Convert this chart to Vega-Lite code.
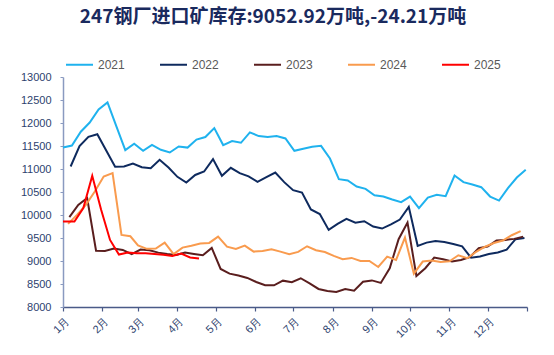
{
  "$schema": "https://vega.github.io/schema/vega-lite/v6.json",
  "width": 464,
  "height": 230,
  "autosize": {"type": "none"},
  "padding": {"left": 63, "top": 77, "right": 27, "bottom": 48},
  "background": "white",
  "title": {
    "text": "247钢厂进口矿库存:9052.92万吨,-24.21万吨",
    "anchor": "middle",
    "frame": "group",
    "dx": -22,
    "offset": 23,
    "font": "Noto Sans CJK SC",
    "fontSize": 19,
    "fontWeight": "bold",
    "color": "#1A2A5E"
  },
  "config": {
    "view": {"stroke": null},
    "axis": {"grid": false}
  },
  "data": {
    "values": [
      {"s":"2021","d":"2021-01-01","v":11468},{"s":"2021","d":"2021-01-08","v":11510},{"s":"2021","d":"2021-01-15","v":11810},{"s":"2021","d":"2021-01-22","v":12010},{"s":"2021","d":"2021-01-29","v":12295},{"s":"2021","d":"2021-02-05","v":12447},{"s":"2021","d":"2021-02-12","v":11925},{"s":"2021","d":"2021-02-19","v":11410},{"s":"2021","d":"2021-02-26","v":11548},{"s":"2021","d":"2021-03-05","v":11396},{"s":"2021","d":"2021-03-12","v":11526},{"s":"2021","d":"2021-03-19","v":11418},{"s":"2021","d":"2021-03-26","v":11359},{"s":"2021","d":"2021-04-02","v":11490},{"s":"2021","d":"2021-04-09","v":11465},{"s":"2021","d":"2021-04-16","v":11640},{"s":"2021","d":"2021-04-23","v":11694},{"s":"2021","d":"2021-04-30","v":11890},{"s":"2021","d":"2021-05-07","v":11520},{"s":"2021","d":"2021-05-14","v":11607},{"s":"2021","d":"2021-05-21","v":11570},{"s":"2021","d":"2021-05-28","v":11795},{"s":"2021","d":"2021-06-04","v":11716},{"s":"2021","d":"2021-06-11","v":11694},{"s":"2021","d":"2021-06-18","v":11716},{"s":"2021","d":"2021-06-25","v":11664},{"s":"2021","d":"2021-07-02","v":11396},{"s":"2021","d":"2021-07-09","v":11439},{"s":"2021","d":"2021-07-16","v":11483},{"s":"2021","d":"2021-07-23","v":11504},{"s":"2021","d":"2021-07-30","v":11228},{"s":"2021","d":"2021-08-06","v":10780},{"s":"2021","d":"2021-08-13","v":10750},{"s":"2021","d":"2021-08-20","v":10619},{"s":"2021","d":"2021-08-27","v":10569},{"s":"2021","d":"2021-09-03","v":10430},{"s":"2021","d":"2021-09-10","v":10401},{"s":"2021","d":"2021-09-17","v":10336},{"s":"2021","d":"2021-09-24","v":10279},{"s":"2021","d":"2021-10-01","v":10401},{"s":"2021","d":"2021-10-08","v":10148},{"s":"2021","d":"2021-10-15","v":10380},{"s":"2021","d":"2021-10-22","v":10438},{"s":"2021","d":"2021-10-29","v":10409},{"s":"2021","d":"2021-11-05","v":10858},{"s":"2021","d":"2021-11-12","v":10714},{"s":"2021","d":"2021-11-19","v":10662},{"s":"2021","d":"2021-11-26","v":10605},{"s":"2021","d":"2021-12-03","v":10401},{"s":"2021","d":"2021-12-10","v":10314},{"s":"2021","d":"2021-12-17","v":10584},{"s":"2021","d":"2021-12-24","v":10815},{"s":"2021","d":"2021-12-31","v":10982},
      {"s":"2022","d":"2021-01-07","v":11054},{"s":"2022","d":"2021-01-14","v":11497},{"s":"2022","d":"2021-01-21","v":11700},{"s":"2022","d":"2021-01-28","v":11755},{"s":"2022","d":"2021-02-04","v":11400},{"s":"2022","d":"2021-02-11","v":11047},{"s":"2022","d":"2021-02-18","v":11054},{"s":"2022","d":"2021-02-25","v":11120},{"s":"2022","d":"2021-03-04","v":11040},{"s":"2022","d":"2021-03-11","v":11015},{"s":"2022","d":"2021-03-18","v":11200},{"s":"2022","d":"2021-03-25","v":11033},{"s":"2022","d":"2021-04-01","v":10830},{"s":"2022","d":"2021-04-08","v":10707},{"s":"2022","d":"2021-04-15","v":10870},{"s":"2022","d":"2021-04-22","v":10946},{"s":"2022","d":"2021-04-29","v":11215},{"s":"2022","d":"2021-05-06","v":10852},{"s":"2022","d":"2021-05-13","v":11026},{"s":"2022","d":"2021-05-20","v":10910},{"s":"2022","d":"2021-05-27","v":10840},{"s":"2022","d":"2021-06-03","v":10721},{"s":"2022","d":"2021-06-10","v":10823},{"s":"2022","d":"2021-06-17","v":10924},{"s":"2022","d":"2021-06-24","v":10714},{"s":"2022","d":"2021-07-01","v":10540},{"s":"2022","d":"2021-07-08","v":10489},{"s":"2022","d":"2021-07-15","v":10120},{"s":"2022","d":"2021-07-22","v":10020},{"s":"2022","d":"2021-07-29","v":9676},{"s":"2022","d":"2021-08-05","v":9806},{"s":"2022","d":"2021-08-12","v":9915},{"s":"2022","d":"2021-08-19","v":9833},{"s":"2022","d":"2021-08-26","v":9865},{"s":"2022","d":"2021-09-02","v":9748},{"s":"2022","d":"2021-09-09","v":9705},{"s":"2022","d":"2021-09-16","v":9795},{"s":"2022","d":"2021-09-23","v":9900},{"s":"2022","d":"2021-09-30","v":10177},{"s":"2022","d":"2021-10-07","v":9330},{"s":"2022","d":"2021-10-14","v":9400},{"s":"2022","d":"2021-10-21","v":9433},{"s":"2022","d":"2021-10-28","v":9411},{"s":"2022","d":"2021-11-04","v":9370},{"s":"2022","d":"2021-11-11","v":9320},{"s":"2022","d":"2021-11-18","v":9070},{"s":"2022","d":"2021-11-25","v":9100},{"s":"2022","d":"2021-12-02","v":9150},{"s":"2022","d":"2021-12-09","v":9186},{"s":"2022","d":"2021-12-16","v":9248},{"s":"2022","d":"2021-12-23","v":9474},{"s":"2022","d":"2021-12-30","v":9500},
      {"s":"2023","d":"2021-01-06","v":9955},{"s":"2023","d":"2021-01-13","v":10220},{"s":"2023","d":"2021-01-20","v":10370},{"s":"2023","d":"2021-01-27","v":9225},{"s":"2023","d":"2021-02-03","v":9220},{"s":"2023","d":"2021-02-10","v":9270},{"s":"2023","d":"2021-02-17","v":9240},{"s":"2023","d":"2021-02-24","v":9150},{"s":"2023","d":"2021-03-03","v":9250},{"s":"2023","d":"2021-03-10","v":9233},{"s":"2023","d":"2021-03-17","v":9182},{"s":"2023","d":"2021-03-24","v":9153},{"s":"2023","d":"2021-03-31","v":9130},{"s":"2023","d":"2021-04-07","v":9185},{"s":"2023","d":"2021-04-14","v":9153},{"s":"2023","d":"2021-04-21","v":9125},{"s":"2023","d":"2021-04-28","v":9285},{"s":"2023","d":"2021-05-05","v":8827},{"s":"2023","d":"2021-05-12","v":8725},{"s":"2023","d":"2021-05-19","v":8685},{"s":"2023","d":"2021-05-26","v":8632},{"s":"2023","d":"2021-06-02","v":8544},{"s":"2023","d":"2021-06-09","v":8472},{"s":"2023","d":"2021-06-16","v":8472},{"s":"2023","d":"2021-06-23","v":8573},{"s":"2023","d":"2021-06-30","v":8538},{"s":"2023","d":"2021-07-07","v":8625},{"s":"2023","d":"2021-07-14","v":8515},{"s":"2023","d":"2021-07-21","v":8392},{"s":"2023","d":"2021-07-28","v":8348},{"s":"2023","d":"2021-08-04","v":8326},{"s":"2023","d":"2021-08-11","v":8392},{"s":"2023","d":"2021-08-18","v":8355},{"s":"2023","d":"2021-08-25","v":8550},{"s":"2023","d":"2021-09-01","v":8578},{"s":"2023","d":"2021-09-08","v":8523},{"s":"2023","d":"2021-09-15","v":8843},{"s":"2023","d":"2021-09-22","v":9474},{"s":"2023","d":"2021-09-29","v":9835},{"s":"2023","d":"2021-10-06","v":8675},{"s":"2023","d":"2021-10-13","v":8843},{"s":"2023","d":"2021-10-20","v":9075},{"s":"2023","d":"2021-10-27","v":9038},{"s":"2023","d":"2021-11-03","v":8988},{"s":"2023","d":"2021-11-10","v":9023},{"s":"2023","d":"2021-11-17","v":9082},{"s":"2023","d":"2021-11-24","v":9278},{"s":"2023","d":"2021-12-01","v":9313},{"s":"2023","d":"2021-12-08","v":9444},{"s":"2023","d":"2021-12-15","v":9459},{"s":"2023","d":"2021-12-22","v":9481},{"s":"2023","d":"2021-12-29","v":9530},
      {"s":"2024","d":"2021-01-05","v":9806},{"s":"2024","d":"2021-01-12","v":10003},{"s":"2024","d":"2021-01-19","v":10220},{"s":"2024","d":"2021-01-26","v":10510},{"s":"2024","d":"2021-02-02","v":10837},{"s":"2024","d":"2021-02-09","v":10910},{"s":"2024","d":"2021-02-16","v":9567},{"s":"2024","d":"2021-02-23","v":9538},{"s":"2024","d":"2021-03-01","v":9340},{"s":"2024","d":"2021-03-08","v":9265},{"s":"2024","d":"2021-03-15","v":9270},{"s":"2024","d":"2021-03-22","v":9400},{"s":"2024","d":"2021-03-29","v":9150},{"s":"2024","d":"2021-04-05","v":9291},{"s":"2024","d":"2021-04-12","v":9330},{"s":"2024","d":"2021-04-19","v":9378},{"s":"2024","d":"2021-04-26","v":9393},{"s":"2024","d":"2021-05-03","v":9530},{"s":"2024","d":"2021-05-10","v":9313},{"s":"2024","d":"2021-05-17","v":9262},{"s":"2024","d":"2021-05-24","v":9335},{"s":"2024","d":"2021-05-31","v":9204},{"s":"2024","d":"2021-06-07","v":9219},{"s":"2024","d":"2021-06-14","v":9255},{"s":"2024","d":"2021-06-21","v":9204},{"s":"2024","d":"2021-06-28","v":9147},{"s":"2024","d":"2021-07-05","v":9197},{"s":"2024","d":"2021-07-12","v":9320},{"s":"2024","d":"2021-07-19","v":9233},{"s":"2024","d":"2021-07-26","v":9194},{"s":"2024","d":"2021-08-02","v":9110},{"s":"2024","d":"2021-08-09","v":9040},{"s":"2024","d":"2021-08-16","v":9067},{"s":"2024","d":"2021-08-23","v":9001},{"s":"2024","d":"2021-08-30","v":9001},{"s":"2024","d":"2021-09-06","v":8870},{"s":"2024","d":"2021-09-13","v":9096},{"s":"2024","d":"2021-09-20","v":9023},{"s":"2024","d":"2021-09-27","v":9510},{"s":"2024","d":"2021-10-04","v":8725},{"s":"2024","d":"2021-10-11","v":8988},{"s":"2024","d":"2021-10-18","v":9009},{"s":"2024","d":"2021-10-25","v":8980},{"s":"2024","d":"2021-11-01","v":8995},{"s":"2024","d":"2021-11-08","v":9125},{"s":"2024","d":"2021-11-15","v":9060},{"s":"2024","d":"2021-11-22","v":9200},{"s":"2024","d":"2021-11-29","v":9310},{"s":"2024","d":"2021-12-06","v":9390},{"s":"2024","d":"2021-12-13","v":9444},{"s":"2024","d":"2021-12-20","v":9560},{"s":"2024","d":"2021-12-27","v":9650},
      {"s":"2025","d":"2021-01-01","v":9857},{"s":"2025","d":"2021-01-10","v":9857},{"s":"2025","d":"2021-01-17","v":10150},{"s":"2025","d":"2021-01-24","v":10852},{"s":"2025","d":"2021-01-31","v":10112},{"s":"2025","d":"2021-02-07","v":9458},{"s":"2025","d":"2021-02-14","v":9140},{"s":"2025","d":"2021-02-21","v":9185},{"s":"2025","d":"2021-02-28","v":9168},{"s":"2025","d":"2021-03-07","v":9168},{"s":"2025","d":"2021-03-14","v":9150},{"s":"2025","d":"2021-03-21","v":9135},{"s":"2025","d":"2021-03-28","v":9110},{"s":"2025","d":"2021-04-04","v":9160},{"s":"2025","d":"2021-04-11","v":9077},{"s":"2025","d":"2021-04-18","v":9053}
    ]
  },
  "mark": {"type": "line", "strokeWidth": 2, "interpolate": "linear"},
  "encoding": {
    "x": {
      "field": "d",
      "type": "temporal",
      "scale": {"type": "utc", "domain": [{"year": 2021, "month": 1, "date": 1, "utc": true}, {"year": 2022, "month": 1, "date": 1, "utc": true}], "nice": false},
      "axis": {
        "title": null,
        "values": [
          {"year": 2021, "month": 1, "date": 1, "utc": true},
          {"year": 2021, "month": 2, "date": 1, "utc": true},
          {"year": 2021, "month": 3, "date": 1, "utc": true},
          {"year": 2021, "month": 4, "date": 1, "utc": true},
          {"year": 2021, "month": 5, "date": 1, "utc": true},
          {"year": 2021, "month": 6, "date": 1, "utc": true},
          {"year": 2021, "month": 7, "date": 1, "utc": true},
          {"year": 2021, "month": 8, "date": 1, "utc": true},
          {"year": 2021, "month": 9, "date": 1, "utc": true},
          {"year": 2021, "month": 10, "date": 1, "utc": true},
          {"year": 2021, "month": 11, "date": 1, "utc": true},
          {"year": 2021, "month": 12, "date": 1, "utc": true},
          {"year": 2022, "month": 1, "date": 1, "utc": true}
        ],
        "labelExpr": "utcyear(datum.value) > 2021 ? '' : (utcmonth(datum.value) + 1) + '月'",
        "labelAngle": -45,
        "labelFont": "Liberation Sans",
        "labelFontSize": 11,
        "labelColor": "#2E3F6E",
        "labelPadding": 4,
        "domainColor": "#4A5A88",
        "domainWidth": 1.5,
        "tickColor": "#4A5A88",
        "tickSize": 4,
        "tickWidth": 1.2,
        "labelOverlap": false
      }
    },
    "y": {
      "field": "v",
      "type": "quantitative",
      "scale": {"domain": [8000, 13000], "nice": false, "zero": false},
      "axis": {
        "title": null,
        "format": "d",
        "values": [8000, 8500, 9000, 9500, 10000, 10500, 11000, 11500, 12000, 12500, 13000],
        "labelFont": "Liberation Sans",
        "labelFontSize": 11,
        "labelColor": "#2E3F6E",
        "labelPadding": 9,
        "domainColor": "#8A9AC0",
        "domainWidth": 1.5,
        "tickColor": "#8A9AC0",
        "tickSize": 3,
        "labelOverlap": false
      }
    },
    "color": {
      "field": "s",
      "type": "nominal",
      "scale": {"domain": ["2021", "2022", "2023", "2024", "2025"], "range": ["#1FB2EE", "#0E2A5E", "#5A1E1E", "#F99B4E", "#FF0000"]},
      "legend": {
        "title": null,
        "orient": "none",
        "direction": "horizontal",
        "legendX": 2,
        "legendY": -27,
        "padding": 0,
        "symbolType": "stroke",
        "symbolSize": 729,
        "symbolStrokeWidth": 2,
        "labelFont": "Liberation Sans",
        "labelFontSize": 12,
        "labelColor": "#595959",
        "labelOffset": 4,
        "columnPadding": 31
      }
    }
  }
}
